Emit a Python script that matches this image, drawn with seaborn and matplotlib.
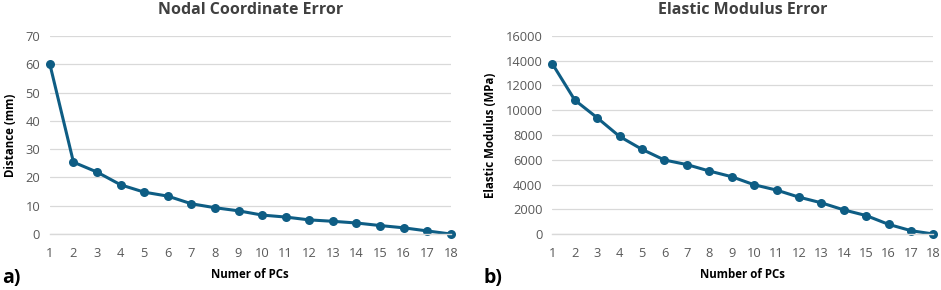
import numpy as np
import pandas as pd
import matplotlib
matplotlib.use('Agg')
import matplotlib.pyplot as plt
import seaborn as sns

# Data
pcs = list(range(1, 19))
nodal_error = [60.0, 25.4, 21.9, 17.4, 14.8, 13.4, 10.7, 9.3, 8.2, 6.7, 6.0, 5.0, 4.5, 3.9, 3.0, 2.2, 1.1, 0.0]
modulus_error = [13750, 10820, 9390, 7880, 6840, 5980, 5610, 5090, 4630, 3980, 3550, 2980, 2520, 1950, 1490, 780, 270, 0]

line_color = '#0E5D84'
grid_color = '#D9D9D9'
tick_color = '#595959'
title_color = '#404040'

sns.set_theme(style='white')
plt.rcParams['font.family'] = ['Open Sans', 'DejaVu Sans']

df = pd.DataFrame({'pc': pcs, 'nodal': nodal_error, 'modulus': modulus_error})

fig = plt.figure(figsize=(9.41, 2.90), dpi=100)
ax1 = fig.add_axes([0.053, 0.193, 0.426, 0.683])
ax2 = fig.add_axes([0.587, 0.193, 0.405, 0.683])


def style_axis(ax, ymax, ystep, title, xlabel, ylabel):
    ax.set_xlim(1, 18)
    ax.set_ylim(0, ymax)
    ax.set_xticks(pcs)
    ax.set_yticks(np.arange(0, ymax + 1, ystep))
    ax.yaxis.grid(True, color=grid_color, linewidth=0.9)
    ax.set_axisbelow(True)
    for side in ['top', 'right', 'left']:
        ax.spines[side].set_visible(False)
    ax.spines['bottom'].set_color(grid_color)
    ax.spines['bottom'].set_linewidth(1.0)
    ax.tick_params(axis='x', length=0, labelsize=9.3, colors=tick_color, pad=9)
    ax.tick_params(axis='y', length=0, labelsize=9.3, colors=tick_color, pad=7)
    ax.set_title(title, fontsize=11.5, fontweight='bold', color=title_color, pad=16)
    ax.set_xlabel(xlabel, fontsize=8.3, fontweight='bold', color='black', labelpad=6)
    ax.set_ylabel(ylabel, fontsize=8.3, fontweight='bold', color='black', labelpad=6)


sns.lineplot(data=df, x='pc', y='nodal', ax=ax1, color=line_color, linewidth=2.2,
             marker='o', markersize=6.5, markeredgewidth=0, clip_on=False)
style_axis(ax1, 70, 10, 'Nodal Coordinate Error', 'Numer of PCs', 'Distance (mm)')

sns.lineplot(data=df, x='pc', y='modulus', ax=ax2, color=line_color, linewidth=2.2,
             marker='o', markersize=6.5, markeredgewidth=0, clip_on=False)
style_axis(ax2, 16000, 2000, 'Elastic Modulus Error', 'Number of PCs', 'Elastic Modulus (MPa)')

fig.text(0.002, 0.025, 'a)', fontsize=14, fontweight='bold', color='black')
fig.text(0.514, 0.025, 'b)', fontsize=14, fontweight='bold', color='black')

plt.savefig('out.png', dpi=100)
plt.close()
